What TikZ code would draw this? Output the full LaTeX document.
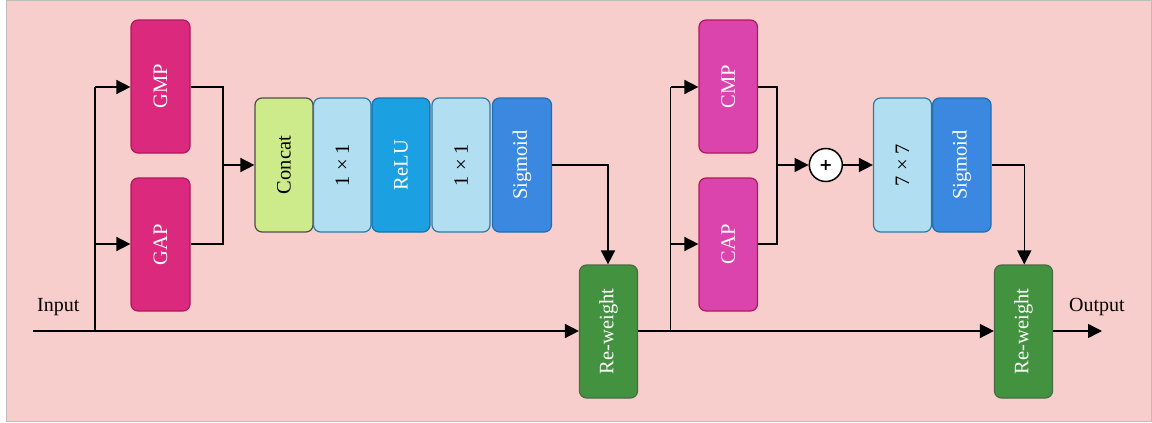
\documentclass[tikz,border=0pt]{standalone}
\usepackage{fontspec}
\setmainfont{Liberation Serif}
\newfontfamily\plusfont{DejaVu Sans}
\usetikzlibrary{arrows.meta}
\definecolor{bgpink}{HTML}{F8CECC}
\definecolor{bgborder}{HTML}{BDBDBD}
\definecolor{gpfill}{HTML}{DB2A7E}
\definecolor{gpdraw}{HTML}{B3175E}
\definecolor{cpfill}{HTML}{DB44AC}
\definecolor{cpdraw}{HTML}{B3175E}
\definecolor{catfill}{HTML}{CDEB8B}
\definecolor{catdraw}{HTML}{4D4D4D}
\definecolor{convfill}{HTML}{B1DEF0}
\definecolor{convdraw}{HTML}{2A7BA6}
\definecolor{relufill}{HTML}{1BA1E2}
\definecolor{reludraw}{HTML}{1A6FA8}
\definecolor{sigfill}{HTML}{3A88E0}
\definecolor{sigdraw}{HTML}{1F6FAF}
\definecolor{rwfill}{HTML}{43923F}
\definecolor{rwdraw}{HTML}{4A6A47}
\tikzset{
  blk/.style={draw, line width=1.2pt, rounded corners=7pt, inner sep=0pt, anchor=center, font=\fontsize{20.5}{23}\selectfont},
  wtext/.style={text=white},
  conn/.style={line width=1.6pt, draw=black},
  arr/.style={conn, -{Triangle[length=14pt,width=14pt]}},
}
\newcommand{\blockat}[7]{% name, x1, y1, x2, y2, style, text
  \node[blk, #6, minimum width={#4pt-#2pt}, minimum height={#5pt-#3pt}] (#1) at ({(#2+#4)/2},{(#3+#5)/2}) {\rotatebox{90}{#7}};
}
\begin{document}
\begin{tikzpicture}[x=1pt,y=-1pt]
\useasboundingbox (0,0) rectangle (1152,423);
\fill[bgpink] (6,0) rectangle (1152,422);
\draw[bgborder, line width=1.2pt] (6.6,0.6) rectangle (1151.4,421.4);

\blockat{gmp}{131}{20}{190}{153}{fill=gpfill, draw=gpdraw, wtext}{GMP}
\blockat{gap}{131}{178}{190}{311}{fill=gpfill, draw=gpdraw, wtext}{GAP}
\blockat{concat}{255}{98}{313}{232}{fill=catfill, draw=catdraw}{Concat}
\blockat{convA}{313.5}{98}{371}{232}{fill=convfill, draw=convdraw}{1 × 1}
\blockat{relu}{372}{98}{430}{232}{fill=relufill, draw=reludraw, wtext}{ReLU}
\blockat{convB}{432}{98}{490}{232}{fill=convfill, draw=convdraw}{1 × 1}
\blockat{sigA}{492.5}{98}{551.5}{232}{fill=sigfill, draw=sigdraw, wtext}{Sigmoid}
\blockat{rwA}{579.5}{265}{637.5}{398}{fill=rwfill, draw=rwdraw, wtext}{Re-weight}
\blockat{cmp}{699}{20}{757.5}{153}{fill=cpfill, draw=cpdraw, wtext}{CMP}
\blockat{cap}{699}{178}{757.5}{311}{fill=cpfill, draw=cpdraw, wtext}{CAP}
\blockat{convC}{873.5}{98}{931.5}{232}{fill=convfill, draw=convdraw}{7 × 7}
\blockat{sigB}{932.5}{98}{991}{232}{fill=sigfill, draw=sigdraw, wtext}{Sigmoid}
\blockat{rwB}{994.5}{265}{1052.5}{398}{fill=rwfill, draw=rwdraw, wtext}{Re-weight}

\node[circle, draw=black, fill=white, line width=1.5pt, minimum size=33pt, inner sep=0pt, font=\plusfont\bfseries\fontsize{16}{16}\selectfont] (plus) at (825.8,165) {+};

\coordinate (in) at (33,331);
\coordinate (out) at (1102,331);
\coordinate (splitA) at (95,331);
\coordinate (splitB) at (670.5,331);
\coordinate (mergeA) at (223,165);
\coordinate (mergeB) at (777,165);

\node[anchor=base west, font=\fontsize{20}{22}\selectfont, inner sep=0pt] (inlabel) at (37,311.5) {Input};
\node[anchor=base west, font=\fontsize{20}{22}\selectfont, inner sep=0pt] (outlabel) at (1069,311.5) {Output};

% main path
\draw[arr] (in) -- (rwA.west |- in);
\draw[conn] (splitA) -- (95,87);
\draw[arr] (95,87) -- (gmp.west |- 0,87);
\draw[arr] (95,244) -- (gap.west |- 0,244);
\draw[conn] (gmp.east |- 0,87) -| (223,244) -- (gap.east |- 0,244);
\draw[arr] (mergeA) -- (concat.west);
\draw[arr] (sigA.east) -| (rwA.north -| 608,0);

\draw[arr] (rwA.east |- 0,331) -- (rwB.west |- 0,331);
\draw[conn] (splitB) -- (670.5,87);
\draw[arr] (670.5,87) -- (cmp.west |- 0,87);
\draw[arr] (670.5,244) -- (cap.west |- 0,244);
\draw[conn] (cmp.east |- 0,87) -| (777,244) -- (cap.east |- 0,244);
\draw[arr] (mergeB) -- (plus.west);
\draw[arr] (plus.east) -- (convC.west);
\draw[arr] (sigB.east) -| (rwB.north -| 1024.3,0);
\draw[arr] (rwB.east |- 0,331) -- (out);
\end{tikzpicture}
\end{document}
